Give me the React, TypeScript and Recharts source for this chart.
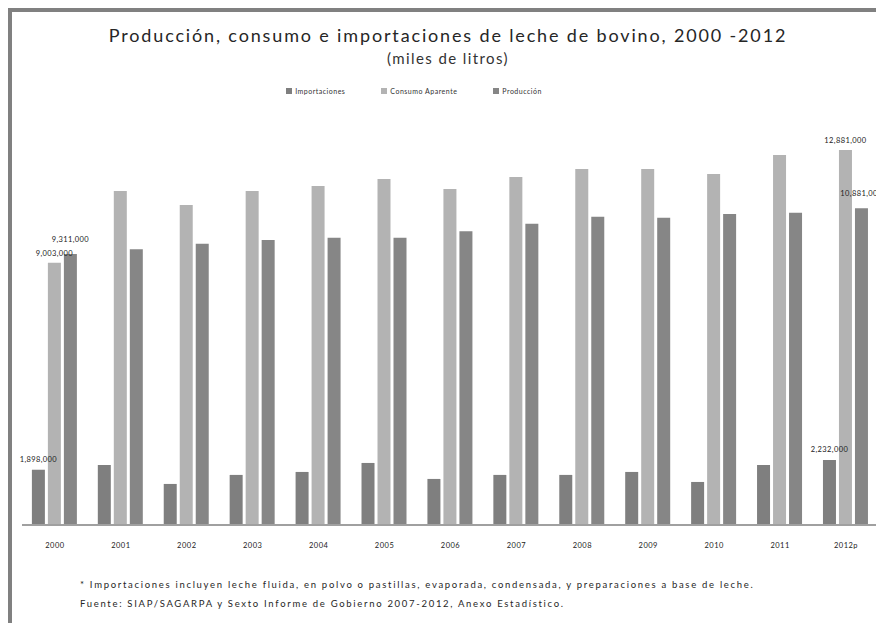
import { Bar, BarChart, LabelList, Legend, XAxis, YAxis } from "recharts"

// miles de litros
const years = ["2000", "2001", "2002", "2003", "2004", "2005", "2006", "2007", "2008", "2009", "2010", "2011", "2012p"]
const importaciones = [1898000, 2061000, 1410000, 1720000, 1822000, 2131000, 1582000, 1720000, 1720000, 1822000, 1478000, 2061000, 2232000]
const consumoAparente = [9003000, 11473000, 10992000, 11473000, 11645000, 11885000, 11542000, 11954000, 12229000, 12229000, 12057000, 12710000, 12881000]
const produccion = [9311000, 9472000, 9658000, 9784000, 9864000, 9868000, 10089000, 10346000, 10589000, 10549000, 10677000, 10724000, 10881000]
const seriesNames = ["Importaciones", "Consumo Aparente", "Producción"]

const data = years.map((year, i) => ({
  year,
  importaciones: importaciones[i],
  consumo: consumoAparente[i],
  produccion: produccion[i],
}))

const font = "Lato, 'Open Sans', sans-serif"

const edgeLabel = (lift: number) => (props: any) => {
  const { x, y, width, value, index } = props
  if (index !== 0 && index !== years.length - 1) return null
  return (
    <text x={x + width / 2} y={y - lift} textAnchor="middle" fontSize={7.5} fill="#222" fontFamily={font} letterSpacing={0.4}>
      {Number(value).toLocaleString("en-US")}
    </text>
  )
}

const YearTick = (props: any) => {
  const { x, y, payload } = props
  return (
    <text x={x} y={y + 21} textAnchor="middle" fontSize={7.5} fill="#222" fontFamily={font} letterSpacing={0.5}>
      {payload.value}
    </text>
  )
}

const LegendBox = (props: any) => {
  const items = seriesNames.map((name) => props.payload.find((p: any) => p.value === name)).filter(Boolean)
  return (
    <div style={{ display: "flex", justifyContent: "center", gap: 36, fontSize: 7, fontFamily: font, color: "#333", letterSpacing: 0.5 }}>
      {items.map((item: any) => (
        <div key={item.value} style={{ display: "flex", alignItems: "center", gap: 3 }}>
          <span style={{ width: 6, height: 6, background: item.color, display: "inline-block" }} />
          {item.value}
        </div>
      ))}
    </div>
  )
}

export default function App() {
  return (
    <div
      style={{
        position: "relative",
        width: 876,
        height: 615,
        boxSizing: "border-box",
        borderLeft: "4px solid #808080",
        borderTop: "4px solid #808080",
        background: "#fff",
        fontFamily: font,
      }}
    >
      <div style={{ position: "absolute", top: 13, left: 0, width: 872, textAlign: "center", fontSize: 18, lineHeight: "20px", letterSpacing: 1.85, color: "#262626" }}>
        Producción, consumo e importaciones de leche de bovino, 2000 -2012
      </div>
      <div style={{ position: "absolute", top: 36, left: 0, width: 872, textAlign: "center", fontSize: 15, lineHeight: "20px", letterSpacing: 1.4, color: "#333" }}>
        (miles de litros)
      </div>

      <div style={{ position: "absolute", top: 0, left: 0 }}>
        <BarChart
          width={872}
          height={600}
          data={data}
          margin={{ top: 117, right: 5, left: 10, bottom: 57 }}
          barCategoryGap="15%"
          barGap={3}
        >
          <XAxis
            dataKey="year"
            height={30}
            tickLine={false}
            tickSize={0}
            axisLine={{ stroke: "#a0a0a0", strokeWidth: 2 }}
            tick={<YearTick />}
            interval={0}
          />
          <YAxis hide domain={[0, 13600000]} />
          <Legend
            layout="horizontal"
            verticalAlign="middle"
            align="center"
            wrapperStyle={{ top: 75, left: -34, width: 872 }}
            content={<LegendBox />}
          />
          <Bar dataKey="importaciones" name="Importaciones" fill="#7f7f7f" isAnimationActive={false}>
            <LabelList dataKey="importaciones" content={edgeLabel(8)} />
          </Bar>
          <Bar dataKey="consumo" name="Consumo Aparente" fill="#b3b3b3" isAnimationActive={false}>
            <LabelList dataKey="consumo" content={edgeLabel(7)} />
          </Bar>
          <Bar dataKey="produccion" name="Producción" fill="#868686" isAnimationActive={false}>
            <LabelList dataKey="produccion" content={edgeLabel(12)} />
          </Bar>
        </BarChart>
      </div>

      <div style={{ position: "absolute", top: 563, left: 68, fontSize: 9.5, lineHeight: "19px", color: "#262626", letterSpacing: 1.7 }}>
        <div>* Importaciones incluyen leche fluida, en polvo o pastillas, evaporada, condensada, y preparaciones a base de leche.</div>
        <div>Fuente: SIAP/SAGARPA y Sexto Informe de Gobierno 2007-2012, Anexo Estadístico.</div>
      </div>
    </div>
  )
}
